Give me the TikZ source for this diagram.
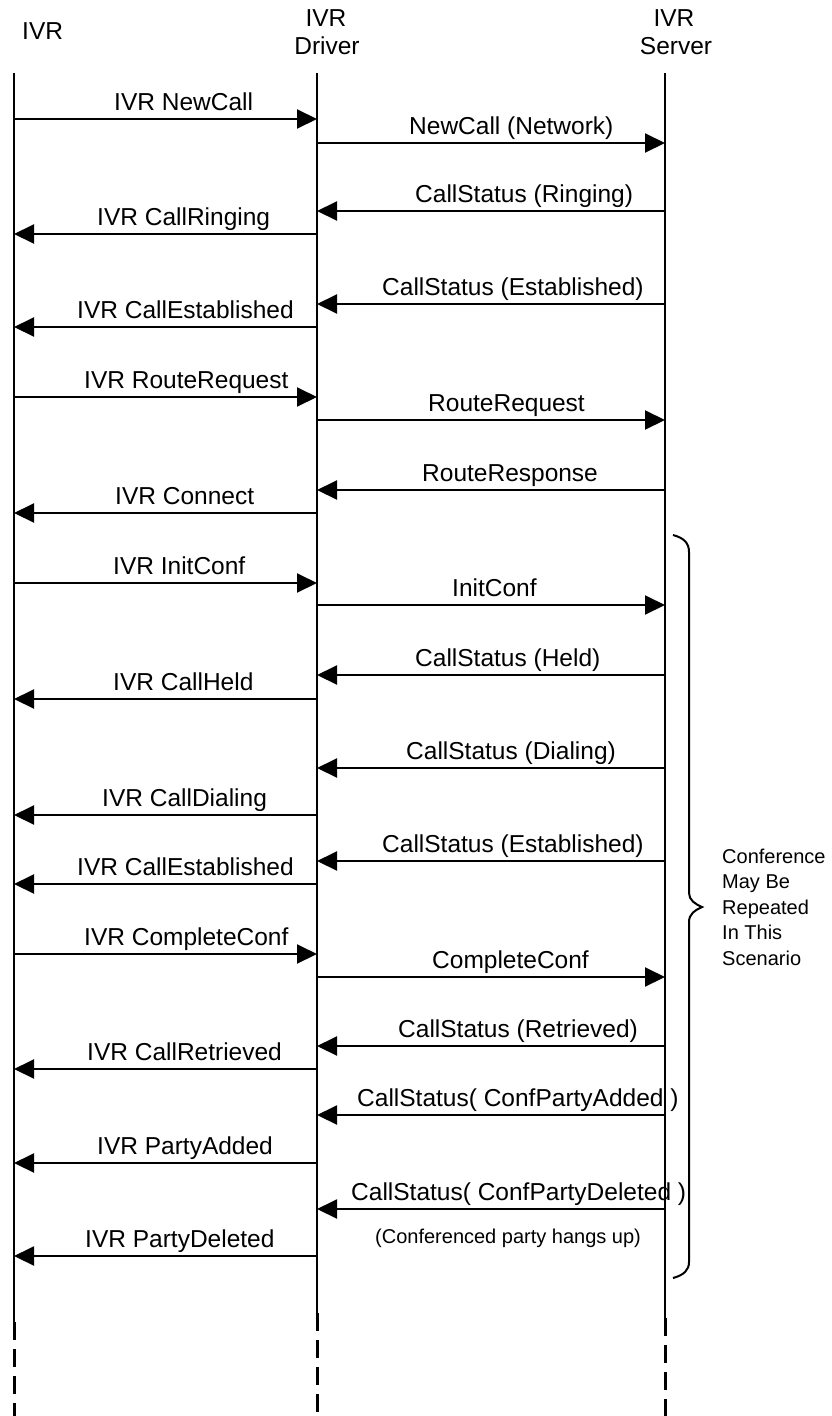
\documentclass[tikz,border=0pt]{standalone}
\usepackage{fontspec}
\setmainfont{Liberation Sans}
\usetikzlibrary{arrows.meta}
\begin{document}
\begin{tikzpicture}[x=1pt,y=1pt,
  life/.style={line width=2pt},
  lifedash/.style={line width=3pt, dash pattern=on 18pt off 9pt},
  msg/.style={line width=2pt, -{Triangle[length=20pt,width=19pt]}},
  lbl/.style={anchor=base west, inner sep=0pt, font=\fontsize{24.5}{28}\selectfont},
  hdr/.style={anchor=base, inner sep=0pt, font=\fontsize{24.5}{28}\selectfont},
  note/.style={inner sep=0pt, font=\fontsize{20}{25.5}\selectfont},
  bracestyle/.style={line width=2pt}]
\useasboundingbox (0,0) rectangle (832,-1416);
% headers
\node[hdr, anchor=base west] (hI) at (22,-39) {IVR};
\node[hdr] (hD1) at (326,-26) {IVR};
\node[hdr] (hD2) at (327,-54) {Driver};
\node[hdr] (hS1) at (674,-26) {IVR};
\node[hdr] (hS2) at (676,-54) {Server};
% lifelines
\coordinate (Itop) at (14,-73);  \coordinate (Imid) at (14,-1322); \coordinate (Ibot) at (14,-1416);
\coordinate (Dtop) at (317,-73); \coordinate (Dmid) at (317,-1313); \coordinate (Dbot) at (317,-1416);
\coordinate (Stop) at (665,-73); \coordinate (Smid) at (665,-1318); \coordinate (Sbot) at (665,-1416);
\draw[life] (Itop) -- (Imid);
\draw[life] (Dtop) -- (Dmid);
\draw[life] (Stop) -- (Smid);
\draw[lifedash] (Imid) -- (Ibot);
\draw[lifedash] (Dmid) -- (Dbot);
\draw[lifedash] (Smid) -- (Sbot);
% messages
\foreach \n/\y/\a/\b/\lx/\t in {
  1/119/14/317/114/{IVR NewCall},
  2/143/317/665/409/{NewCall (Network)},
  3/211/665/317/415/{CallStatus (Ringing)},
  4/234/317/14/97/{IVR CallRinging},
  5/304/665/317/382/{CallStatus (Established)},
  6/327/317/14/77/{IVR CallEstablished},
  7/397/14/317/84/{IVR RouteRequest},
  8/420/317/665/428/{RouteRequest},
  9/490/665/317/422/{RouteResponse},
  10/513/317/14/115/{IVR Connect},
  11/583/14/317/113/{IVR InitConf},
  12/605/317/665/452/{InitConf},
  13/675/665/317/415/{CallStatus (Held)},
  14/699/317/14/113/{IVR CallHeld},
  15/768/665/317/406/{CallStatus (Dialing)},
  16/815/317/14/102/{IVR CallDialing},
  17/861/665/317/382/{CallStatus (Established)},
  18/884/317/14/77/{IVR CallEstablished},
  19/954/14/317/84/{IVR CompleteConf},
  20/977/317/665/432/{CompleteConf},
  21/1046/665/317/398/{CallStatus (Retrieved)},
  22/1069/317/14/87/{IVR CallRetrieved},
  23/1115/665/317/357/{CallStatus( ConfPartyAdded )},
  24/1163/317/14/97/{IVR PartyAdded},
  25/1209/665/317/351/{CallStatus( ConfPartyDeleted )},
  27/1256/317/14/85/{IVR PartyDeleted}}
{
  \coordinate (s\n) at (\a,-\y);
  \coordinate (e\n) at (\b,-\y);
  \draw[msg] (s\n) -- (e\n);
  \node[lbl] (l\n) at ({\lx},{-\y+9}) {\t};
}
\node[note, anchor=base west] (hang) at (375,-1243) {(Conferenced party hangs up)};
% brace
\coordinate (bt) at (673,-535);
\coordinate (bb) at (673,-1278);
\coordinate (bp) at (702,-907);
\draw[bracestyle] (bt) .. controls (684,-538) and (689,-543) .. (689,-552)
  -- (689,-893) .. controls (689,-900) and (695,-904) .. (bp)
  .. controls (695,-910) and (689,-914) .. (689,-922)
  -- (689,-1262) .. controls (689,-1270) and (684,-1275) .. (bb);
\node[note, anchor=north west, align=left] (conf) at (722,-848.5)
  {Conference\\May Be\\Repeated\\In This\\Scenario};
\end{tikzpicture}
\end{document}
